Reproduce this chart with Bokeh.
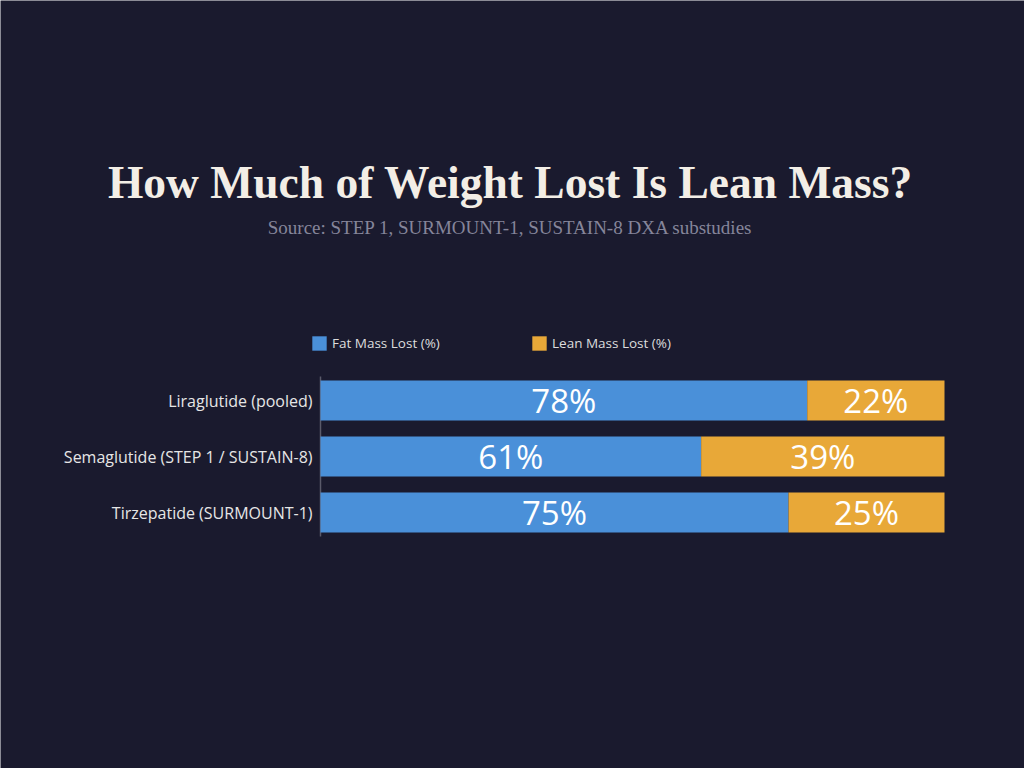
from bokeh.plotting import figure
from bokeh.models import ColumnDataSource, Range1d, Legend, LegendItem, Label
from bokeh.core.properties import value
from bokeh.embed import file_html
from bokeh.resources import INLINE

# ---- data ----
categories = ["Liraglutide (pooled)", "Semaglutide (STEP 1 / SUSTAIN-8)", "Tirzepatide (SURMOUNT-1)"]
fat_mass = [78, 61, 75]
lean_mass = [22, 39, 25]
series_names = ["Fat Mass Lost (%)", "Lean Mass Lost (%)"]
title_text = "How Much of Weight Lost Is Lean Mass?"
subtitle_text = "Source: STEP 1, SURMOUNT-1, SUSTAIN-8 DXA substudies"

# ---- style / layout ----
BG = "#1a1a2e"
BLUE = "#4a90d9"
ORANGE = "#e8a838"
W, H = 1024, 768
BAR_LEFT_PX, BAR_RIGHT_PX = 320, 944      # pixel span of 0..100 %
FIRST_ROW_PX, ROW_PITCH_PX = 400, 56      # centre of first row, row spacing
px_per_x = (BAR_RIGHT_PX - BAR_LEFT_PX) / 100.0

x_start = -BAR_LEFT_PX / px_per_x
x_end = (W - BAR_LEFT_PX) / px_per_x
y_top = -FIRST_ROW_PX / ROW_PITCH_PX
y_bottom = (H - FIRST_ROW_PX) / ROW_PITCH_PX

idx = list(range(len(categories)))
src = ColumnDataSource(dict(
    y=idx, fat=fat_mass,
    lean_end=[f + l for f, l in zip(fat_mass, lean_mass)],
    fat_mid=[f / 2 for f in fat_mass],
    lean_mid=[f + l / 2 for f, l in zip(fat_mass, lean_mass)],
    fat_txt=[f"{v}%" for v in fat_mass], lean_txt=[f"{v}%" for v in lean_mass],
    cat=categories, lab_x=[-8 / px_per_x] * len(categories),
))

p = figure(width=W, height=H, output_backend="svg", toolbar_location=None,
           x_range=Range1d(x_start, x_end), y_range=Range1d(y_bottom, y_top),
           x_axis_location=None, y_axis_location=None,
           min_border=0, background_fill_color=BG, border_fill_color=BG, outline_line_color=None)
p.grid.visible = False

# axis line
half = 24 / ROW_PITCH_PX
p.segment(x0=[0], x1=[0], y0=[-half], y1=[len(categories) - 1 + half],
          line_color="#5a5a6a", line_width=1.5)

r_fat = p.hbar(y="y", left=0, right="fat", height=40 / ROW_PITCH_PX, color=BLUE, line_color=None, source=src)
r_lean = p.hbar(y="y", left="fat", right="lean_end", height=40 / ROW_PITCH_PX, color=ORANGE, line_color=None, source=src)

for xcol, tcol in (("fat_mid", "fat_txt"), ("lean_mid", "lean_txt")):
    p.text(x=xcol, y="y", text=tcol, source=src, text_align="center", text_baseline="middle",
           text_color="#ffffff", text_font=value("Open Sans"), text_font_size="33px")

# category labels
p.text(x="lab_x", y="y", text="cat", source=src, text_align="right", text_baseline="middle",
       text_color="#e6e6e6", text_font=value("Open Sans"), text_font_size="16px")

legend = Legend(items=[LegendItem(label=series_names[0], renderers=[r_fat]),
                       LegendItem(label=series_names[1], renderers=[r_lean])],
                orientation="horizontal", location=(310, H - 352),
                glyph_width=18, glyph_height=18, label_height=18, label_width=198,
                label_standoff=4, spacing=0, padding=0, margin=0,
                label_text_font="Open Sans", label_text_font_size="13.5px", label_text_color="#dddddd",
                border_line_alpha=0, background_fill_alpha=0)
p.add_layout(legend, "center")

p.add_layout(Label(x=510, y=H - 182, x_units="screen", y_units="screen", text=title_text,
                   text_align="center", text_baseline="alphabetic",
                   text_font="Liberation Serif", text_font_style="bold", text_font_size="45.5px",
                   text_color="#f3eee6"))
p.add_layout(Label(x=510, y=H - 227, x_units="screen", y_units="screen", text=subtitle_text,
                   text_align="center", text_baseline="alphabetic",
                   text_font="Liberation Serif", text_font_size="19px",
                   text_color="#85859a"))

open("out.html", "w").write(file_html(p, INLINE))
